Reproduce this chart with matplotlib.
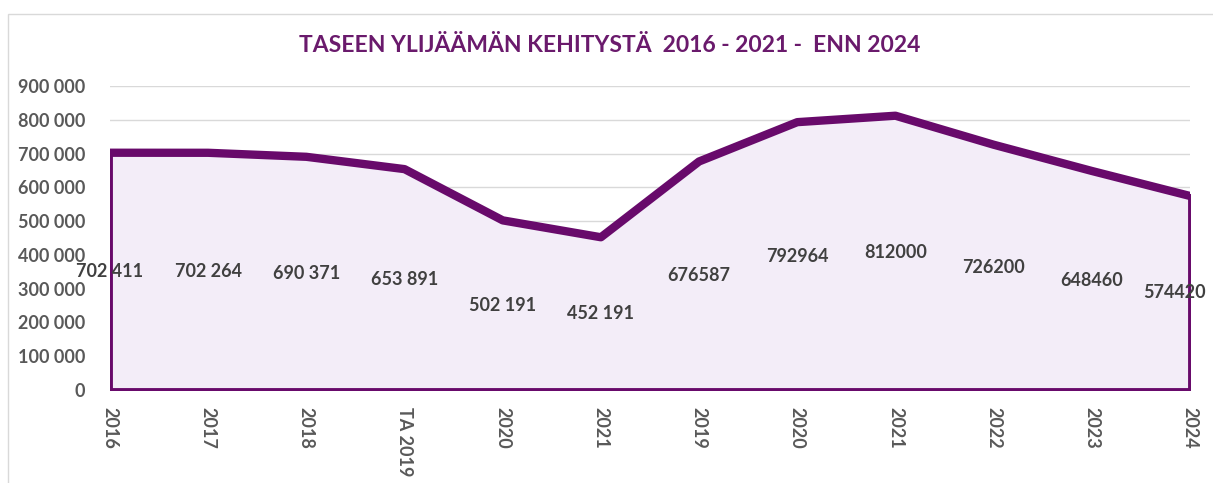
import matplotlib.pyplot as plt
from matplotlib.patches import Rectangle

# Taseen ylijäämä 2016 - 2024
categories = ["2016", "2017", "2018", "TA 2019", "2020", "2021",
              "2019", "2020", "2021", "2022", "2023", "2024"]
values = [702411, 702264, 690371, 653891, 502191, 452191,
          676587, 792964, 812000, 726200, 648460, 574420]
value_labels = ["702 411", "702 264", "690 371", "653 891", "502 191", "452 191",
                "676587", "792964", "812000", "726200", "648460", "574420"]
yticks = [0, 100000, 200000, 300000, 400000, 500000, 600000, 700000, 800000, 900000]

purple = "#680A6B"
gray = "#595959"
plt.rcParams["font.family"] = ["Lato", "DejaVu Sans"]

fig = plt.figure(figsize=(12.13, 4.83), dpi=100)
fig.patches.append(Rectangle((0.007, -0.01), 1.0, 0.98, transform=fig.transFigure,
                             fill=False, edgecolor="#D9D9D9", linewidth=1))
ax = fig.add_axes([110 / 1213, 1 - 390 / 483, 1080 / 1213, 304 / 483])

x = list(range(len(values)))
ax.fill_between(x, 0, values, facecolor="#F3EDF8", edgecolor=purple, linewidth=3.5, zorder=2)
ax.plot(x, values, color=purple, linewidth=6, solid_joinstyle="round", zorder=3)

# Excel siirtää viimeisen otsikon kaavion sisään
for xi, v, lab in zip(x, values, value_labels):
    dx = -11 if xi == len(values) - 1 else 0
    ax.annotate(lab, (xi, v / 2), xytext=(dx, 0), textcoords="offset points",
                ha="center", va="center", fontsize=13, fontweight="bold",
                color="#404040", zorder=4, annotation_clip=False)

ax.set_xlim(0, len(values) - 1)
ax.set_ylim(0, 900000)
ax.set_yticks(yticks)
ax.set_yticklabels([f"{t:,}".replace(",", " ") for t in yticks],
                   fontsize=13, fontweight="bold", color=gray)
ax.set_xticks(x)
ax.set_xticklabels(categories, rotation=-90, fontsize=13, fontweight="bold",
                   color=gray, va="top")
ax.tick_params(axis="both", length=0)
ax.tick_params(axis="y", pad=18)
ax.tick_params(axis="x", pad=12)
ax.grid(axis="y", color="#D9D9D9", linewidth=1, zorder=0)
ax.set_axisbelow(True)
for s in ax.spines.values():
    s.set_visible(False)

fig.text(0.503, 1 - 45 / 483, "TASEEN YLIJÄÄMÄN KEHITYSTÄ  2016 - 2021 -  ENN 2024",
         ha="center", va="center", fontsize=16.5, fontweight="bold", color="#6A1A6C")

fig.savefig("out.png", dpi=100)
